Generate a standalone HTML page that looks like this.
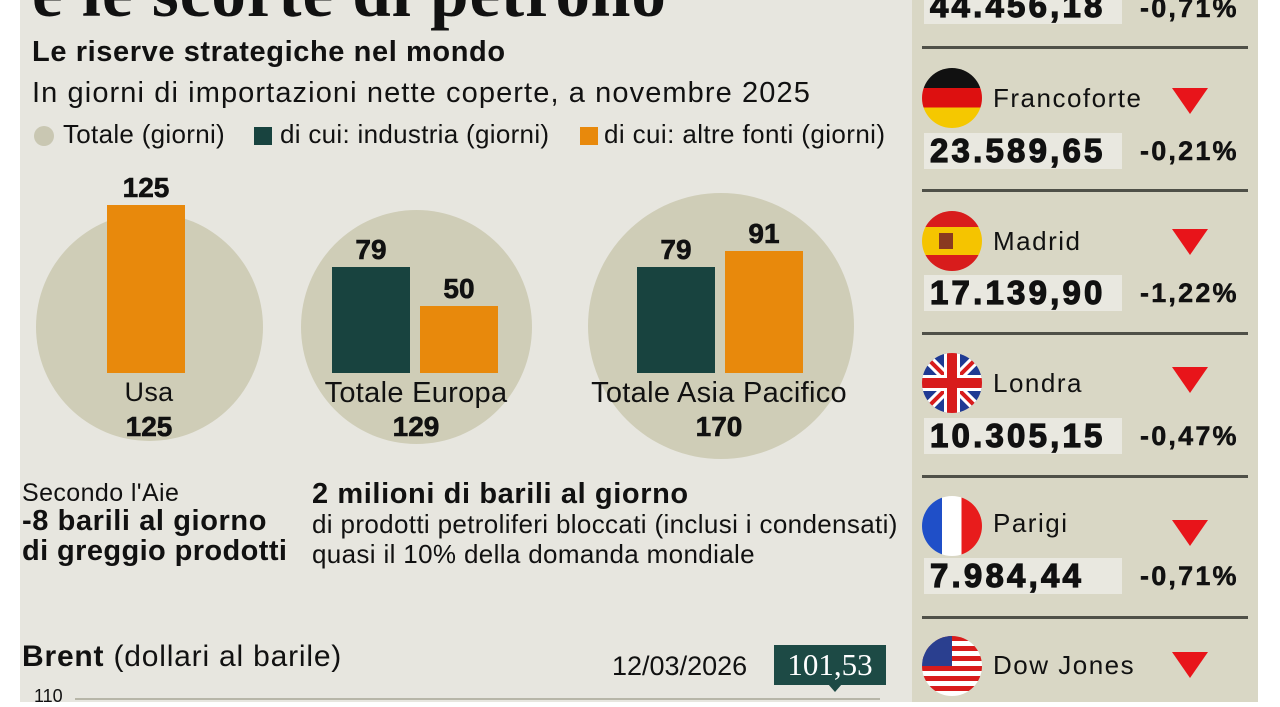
<!DOCTYPE html>
<html><head><meta charset="utf-8"><style>
*{margin:0;padding:0;box-sizing:border-box}
body{width:1280px;height:702px;overflow:hidden;background:#fff;position:relative;font-family:"Liberation Sans",sans-serif;color:#111}
.a{position:absolute;white-space:nowrap}
#main{position:absolute;left:20px;top:0;width:892px;height:702px;background:#e7e6df}
#right{position:absolute;left:912px;top:0;width:346px;height:702px;background:#d9d7c5}
.c{position:absolute;border-radius:50%;background:#cfcdb7}
.b{position:absolute}
.o{background:#e8890c}.d{background:#18433f}
.n{font-weight:bold;font-size:28px;text-align:center;-webkit-text-stroke:0.6px #111}
.lbl{font-size:27px;text-align:center;letter-spacing:0.3px}
.hr{position:absolute;left:922px;width:326px;height:3px;background:#4f5048}
.flag{position:absolute;width:60px;height:60px;border-radius:50%;overflow:hidden;left:922px}
.nm{position:absolute;left:993px;font-size:26px;letter-spacing:1.5px}
.tri{position:absolute;left:1172px;width:0;height:0;border-left:18px solid transparent;border-right:18px solid transparent;border-top:26px solid #e8141a}
.val{position:absolute;left:924px;width:198px;height:36px;background:#e9e8e0;font-weight:900;font-size:33px;line-height:36px;padding-left:6px;letter-spacing:3.2px;-webkit-text-stroke:1.2px #111}
.pct{position:absolute;left:1140px;font-weight:bold;font-size:27px;letter-spacing:2.2px;-webkit-text-stroke:0.5px #111}
</style></head><body>
<div id="main"></div>
<div id="right"></div>
<div class="a" style="left:32px;top:-46px;font-family:'Liberation Serif',serif;font-weight:bold;font-size:69px;letter-spacing:1px">e le scorte di petrolio</div>
<div class="a" style="left:32px;top:36px;font-weight:bold;font-size:29px;letter-spacing:0.6px">Le riserve strategiche nel mondo</div>
<div class="a" style="left:32px;top:77px;font-size:29px;letter-spacing:1.1px">In giorni di importazioni nette coperte, a novembre 2025</div>
<div class="a" style="left:34px;top:126px;width:20px;height:20px;border-radius:50%;background:#c9c7b2"></div>
<div class="a" style="left:63px;top:119px;font-size:26px;letter-spacing:0.3px">Totale (giorni)</div>
<div class="a" style="left:254px;top:127px;width:18px;height:18px;background:#18433f"></div>
<div class="a" style="left:280px;top:119px;font-size:26px;letter-spacing:0.3px">di cui: industria (giorni)</div>
<div class="a" style="left:580px;top:127px;width:18px;height:18px;background:#e8890c"></div>
<div class="a" style="left:604px;top:119px;font-size:26px;letter-spacing:0.4px">di cui: altre fonti (giorni)</div>

<div class="c" style="left:36px;top:213px;width:227px;height:228px"></div>
<div class="c" style="left:301px;top:210px;width:231px;height:234px"></div>
<div class="c" style="left:588px;top:193px;width:266px;height:266px"></div>

<div class="b o" style="left:107px;top:205px;width:78px;height:168px"></div>
<div class="b d" style="left:332px;top:267px;width:78px;height:106px"></div>
<div class="b o" style="left:420px;top:306px;width:78px;height:67px"></div>
<div class="b d" style="left:637px;top:267px;width:78px;height:106px"></div>
<div class="b o" style="left:725px;top:251px;width:78px;height:122px"></div>

<div class="a n" style="left:107px;top:172px;width:78px">125</div>
<div class="a n" style="left:332px;top:234px;width:78px">79</div>
<div class="a n" style="left:420px;top:273px;width:78px">50</div>
<div class="a n" style="left:637px;top:234px;width:78px">79</div>
<div class="a n" style="left:725px;top:218px;width:78px">91</div>

<div class="a lbl" style="left:49px;top:377px;width:200px">Usa</div>
<div class="a n" style="left:49px;top:411px;width:200px">125</div>
<div class="a lbl" style="left:266px;top:377px;width:300px;font-size:29px">Totale Europa</div>
<div class="a n" style="left:316px;top:411px;width:200px">129</div>
<div class="a lbl" style="left:569px;top:377px;width:300px;font-size:29px">Totale Asia Pacifico</div>
<div class="a n" style="left:569px;top:411px;width:300px">170</div>

<div class="a" style="left:22px;top:479px;font-size:25px;letter-spacing:0.4px">Secondo l'Aie</div>
<div class="a" style="left:22px;top:505px;font-size:29px;font-weight:bold;letter-spacing:0.6px">-8 barili al giorno</div>
<div class="a" style="left:22px;top:535px;font-size:29px;font-weight:bold;letter-spacing:0.4px">di greggio prodotti</div>
<div class="a" style="left:312px;top:478px;font-size:29px;font-weight:bold;letter-spacing:0.6px">2 milioni di barili al giorno</div>
<div class="a" style="left:312px;top:509px;font-size:26px;letter-spacing:0.35px">di prodotti petroliferi bloccati (inclusi i condensati)</div>
<div class="a" style="left:312px;top:539px;font-size:26px;letter-spacing:0.35px">quasi il 10% della domanda mondiale</div>

<div class="a" style="left:22px;top:640px;font-size:30px;letter-spacing:0.8px"><b>Brent</b> (dollari al barile)</div>
<div class="a" style="left:612px;top:651px;font-size:27px;letter-spacing:0px">12/03/2026</div>
<div class="a" style="left:774px;top:645px;width:112px;height:40px;background:#1d4a45;color:#fff;font-family:'Liberation Serif',serif;font-size:31px;text-align:center;line-height:40px">101,53</div>
<div class="a" style="left:828px;top:684px;width:0;height:0;border-left:7px solid transparent;border-right:7px solid transparent;border-top:8px solid #1d4a45"></div>
<div class="a" style="left:34px;top:686px;font-size:18px">110</div>
<div class="a" style="left:75px;top:698px;width:805px;height:2px;background:#b7b6a8"></div>

<!-- right panel -->
<div class="val" style="top:-12px">44.456,18</div>
<div class="pct" style="top:-7px">-0,71%</div>
<div class="hr" style="top:46px"></div>

<div class="flag" style="top:68px;background:linear-gradient(#111 0 33%,#dd1010 33% 66%,#f5c800 66%)"></div>
<div class="nm" style="top:83px">Francoforte</div>
<div class="tri" style="top:88px"></div>
<div class="val" style="top:133px">23.589,65</div>
<div class="pct" style="top:136px">-0,21%</div>
<div class="hr" style="top:189px"></div>

<div class="flag" style="top:211px;background:linear-gradient(#d81c1c 0 27%,#f5c400 27% 73%,#d81c1c 73%)"><div style="position:absolute;left:17px;top:22px;width:14px;height:16px;background:#8a3a20"></div></div>
<div class="nm" style="top:226px">Madrid</div>
<div class="tri" style="top:229px"></div>
<div class="val" style="top:275px">17.139,90</div>
<div class="pct" style="top:278px">-1,22%</div>
<div class="hr" style="top:332px"></div>

<div class="flag" style="top:353px;background:#1f3a93"><svg width="60" height="60"><path d="M0 0L60 60M60 0L0 60" stroke="#fff" stroke-width="10"/><path d="M0 0L60 60M60 0L0 60" stroke="#d81c1c" stroke-width="4"/><path d="M30 0V60M0 30H60" stroke="#fff" stroke-width="16"/><path d="M30 0V60M0 30H60" stroke="#d81c1c" stroke-width="10"/></svg></div>
<div class="nm" style="top:368px">Londra</div>
<div class="tri" style="top:367px"></div>
<div class="val" style="top:418px">10.305,15</div>
<div class="pct" style="top:421px">-0,47%</div>
<div class="hr" style="top:475px"></div>

<div class="flag" style="top:496px;background:linear-gradient(90deg,#1f4fc8 0 33%,#fff 33% 66%,#e81c1c 66%)"></div>
<div class="nm" style="top:508px">Parigi</div>
<div class="tri" style="top:520px"></div>
<div class="val" style="top:558px">7.984,44</div>
<div class="pct" style="top:561px">-0,71%</div>
<div class="hr" style="top:616px"></div>

<div class="flag" style="top:636px;background:repeating-linear-gradient(#d81c1c 0 5px,#fff 5px 10px)"><div style="position:absolute;left:0;top:0;width:30px;height:30px;background:#2a3f8f"></div></div>
<div class="nm" style="top:650px">Dow Jones</div>
<div class="tri" style="top:652px"></div>
</body></html>
